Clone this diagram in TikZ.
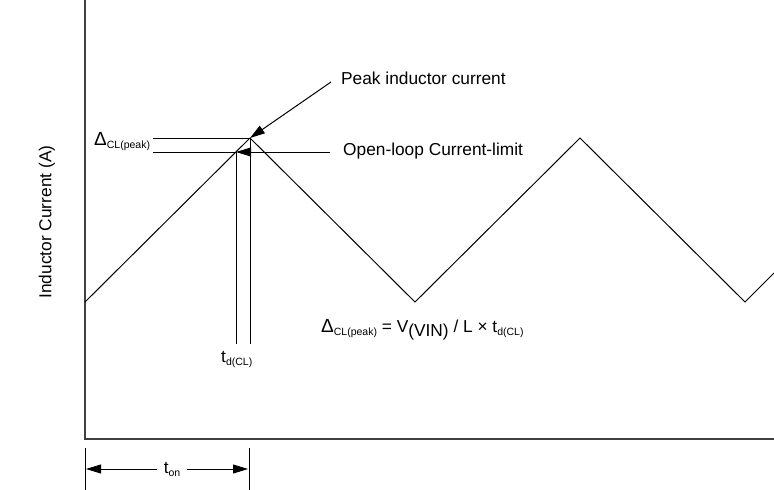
\documentclass[tikz,border=0pt]{standalone}
\usepackage{fontspec}
\setmainfont{Liberation Sans}
\usetikzlibrary{arrows.meta}
\newcommand{\sbs}[1]{\raisebox{-3.5pt}{\fontsize{10.5}{12}\selectfont #1}}
\begin{document}
\begin{tikzpicture}[x=1pt,y=-1pt,
  wave/.style={line width=1pt,black},
  thin/.style={line width=1pt,black},
  axis/.style={line width=1.6pt,black!75},
  tri/.style={-{Triangle[length=15pt,width=9pt]}},
  lbl/.style={inner sep=0pt,font=\fontsize{17.3}{20}\selectfont}]
\useasboundingbox (0,0) rectangle (774,490);
% axes
\coordinate (otop) at (85,0);
\coordinate (orig) at (85,439);
\coordinate (xend) at (774,439);
\draw[axis] (otop) -- (orig) -- (xend);
% waveform
\coordinate (w0) at (85,302);
\coordinate (p1) at (250,138);
\coordinate (v1) at (415,302);
\coordinate (p2) at (580,138);
\coordinate (v2) at (745,302);
\coordinate (w5) at (774,273);
\draw[wave] (w0) -- (p1) -- (v1) -- (p2) -- (v2) -- (w5);
% level lines
\coordinate (pkl) at (153,138);
\coordinate (cll) at (153,152);
\coordinate (clr) at (330,152);
\coordinate (clx) at (236,152);
\draw[thin] (pkl) -- (p1);
\draw[thin] (cll) -- (clx);
% vertical lines
\coordinate (vb1) at (236,344);
\coordinate (vb2) at (250,344);
\draw[thin] (clx) -- (vb1);
\draw[thin] (p1) -- (vb2);
% arrows
\coordinate (pks) at (331,82);
\draw[thin,tri] (pks) -- (p1);
\draw[thin,tri] (clr) -- (clx);
% labels
\node[lbl,anchor=west] (pk) at (341,78) {Peak inductor current};
\node[lbl,anchor=west] (ol) at (343,151) {Open-loop Current-limit};
\node[lbl,anchor=base west] (dl) at (94,145) {\fontsize{19}{20}\selectfont Δ\sbs{CL(peak)}};
\node[lbl,anchor=base west] (eq) at (321,332) {{\fontsize{19}{20}\selectfont Δ}\sbs{CL(peak)} = V\raisebox{-4.5pt}{(VIN)} / L × t\sbs{d(CL)}};
\node[lbl,anchor=base west] (td) at (221,362) {t\sbs{d(CL)}};
\node[lbl,rotate=90] (yl) at (47,222) {Inductor Current (A)};
% t_on dimension
\coordinate (tl1) at (85,448);
\coordinate (tl2) at (85,490);
\coordinate (tr1) at (249,448);
\coordinate (tr2) at (249,490);
\draw[thin] (tl1) -- (tl2);
\draw[thin] (tr1) -- (tr2);
\node[lbl,anchor=base] (ton) at (172,473) {t\sbs{on}};
\coordinate (ta) at (86,469);
\coordinate (tb) at (248,469);
\draw[thin,tri] ([xshift=-7pt]ton.west |- ta) -- (ta);
\draw[thin,tri] ([xshift=7pt]ton.east |- tb) -- (tb);
\end{tikzpicture}
\end{document}
